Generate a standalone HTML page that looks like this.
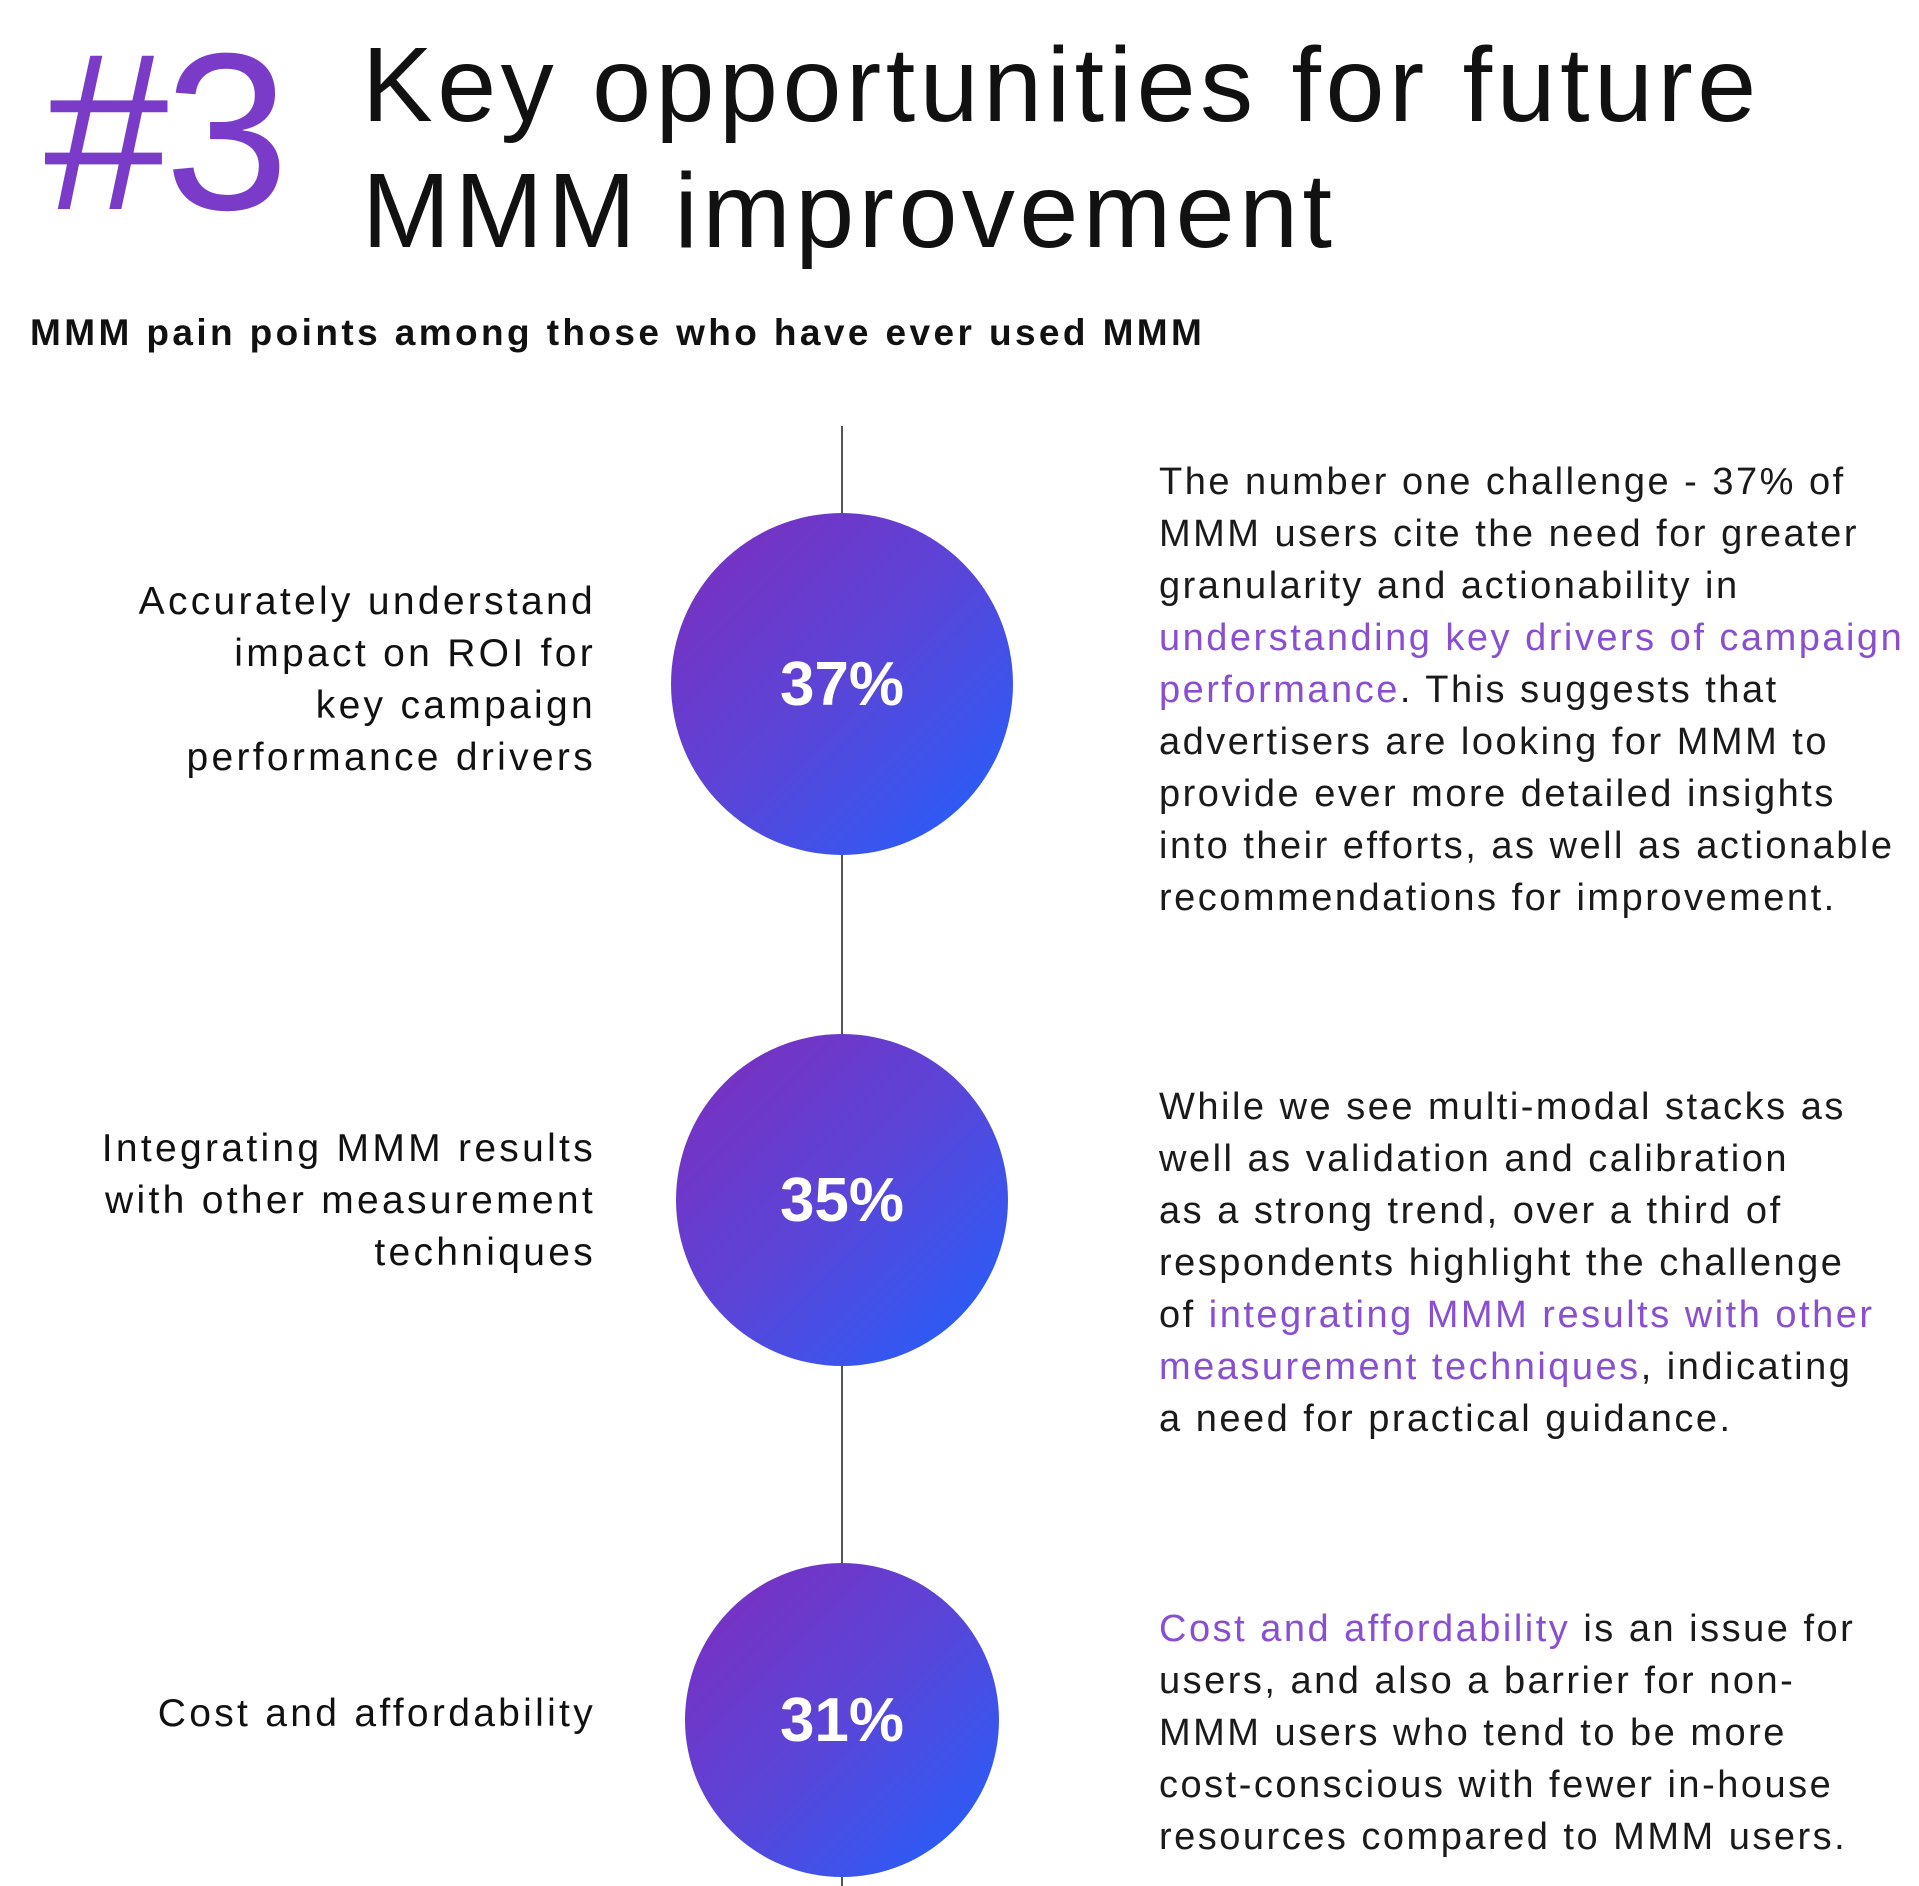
<!DOCTYPE html>
<html><head><meta charset="utf-8"><style>
body{margin:0;width:1919px;height:1883px;background:#fff;position:relative;overflow:hidden;font-family:"Liberation Sans",sans-serif;color:#111;}
.a{position:absolute;white-space:nowrap;}
.lbl{font-size:39px;line-height:52px;text-align:right;right:1323px;letter-spacing:3.3px;}
.txt{font-size:38px;line-height:52px;left:1159px;color:#1a1a1a;letter-spacing:2.5px;}
.p{color:#8a4fd0;}
.c{position:absolute;border-radius:50%;background:linear-gradient(135deg,#7f2cbc 0%,#5a45d8 50%,#1e62ff 100%);color:#fff;font-weight:bold;font-size:62px;display:flex;align-items:center;justify-content:center;}
</style></head><body>
<div class="a" style="left:44px;top:20px;font-size:224px;line-height:224px;color:#7a3cc8;letter-spacing:-4px;">#3</div>
<div class="a" style="left:362px;top:22px;font-size:106px;line-height:126px;letter-spacing:4.5px;">Key opportunities for future<br>MMM improvement</div>
<div class="a" style="left:30px;top:312px;font-size:37px;font-weight:bold;letter-spacing:3.4px;">MMM pain points among those who have ever used MMM</div>
<div class="a" style="left:841px;top:426px;width:2px;height:1460px;background:#555;"></div>
<div class="c" style="left:671px;top:513px;width:342px;height:342px;">37%</div>
<div class="c" style="left:676px;top:1034px;width:332px;height:332px;">35%</div>
<div class="c" style="left:685px;top:1563px;width:314px;height:314px;">31%</div>
<div class="a lbl" style="top:576px;">Accurately understand<br>impact on ROI for<br>key campaign<br>performance drivers</div>
<div class="a lbl" style="top:1123px;">Integrating MMM results<br>with other measurement<br>techniques</div>
<div class="a lbl" style="top:1688px;">Cost and affordability</div>
<div class="a txt" style="top:456px;">The number one challenge - 37% of<br>MMM users cite the need for greater<br>granularity and actionability in<br><span class="p">understanding key drivers of campaign<br>performance</span>. This suggests that<br>advertisers are looking for MMM to<br>provide ever more detailed insights<br>into their efforts, as well as actionable<br>recommendations for improvement.</div>
<div class="a txt" style="top:1081px;">While we see multi-modal stacks as<br>well as validation and calibration<br>as a strong trend, over a third of<br>respondents highlight the challenge<br>of <span class="p">integrating MMM results with other<br>measurement techniques</span>, indicating<br>a need for practical guidance.</div>
<div class="a txt" style="top:1603px;"><span class="p">Cost and affordability</span> is an issue for<br>users, and also a barrier for non-<br>MMM users who tend to be more<br>cost-conscious with fewer in-house<br>resources compared to MMM users.</div>
</body></html>
